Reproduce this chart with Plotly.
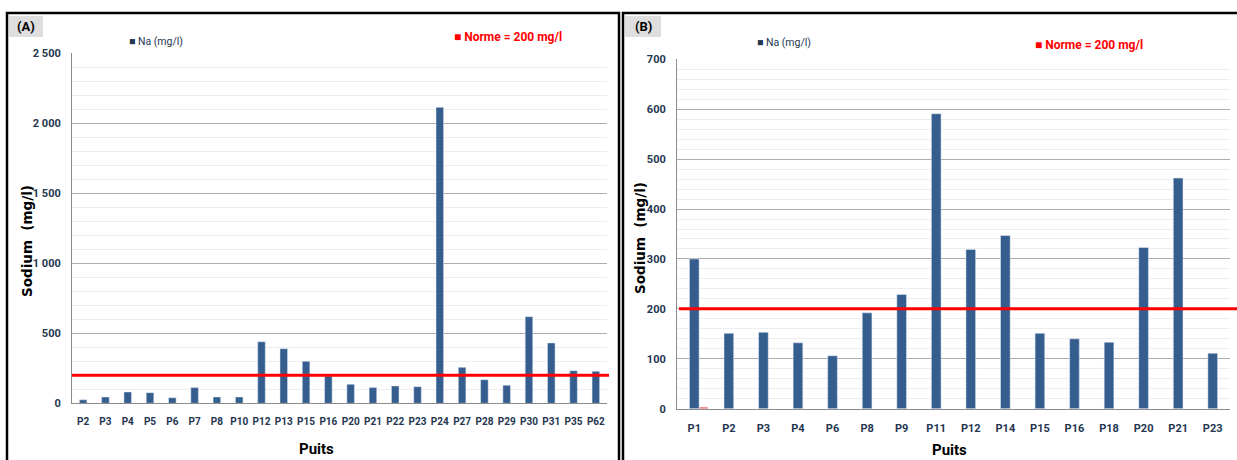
import plotly.graph_objects as go

# Panel (A): sodium per well
wells_a = ["P2", "P3", "P4", "P5", "P6", "P7", "P8", "P10", "P12", "P13", "P15", "P16",
           "P20", "P21", "P22", "P23", "P24", "P27", "P28", "P29", "P30", "P31", "P35", "P62"]
na_a = [25, 45, 81, 76, 40, 112, 45, 45, 440, 390, 300, 195,
        136, 112, 124, 119, 2114, 257, 169, 129, 619, 431, 233, 229]

# Panel (B): sodium per well
wells_b = ["P1", "P2", "P3", "P4", "P6", "P8", "P9", "P11", "P12", "P14", "P15", "P16",
           "P18", "P20", "P21", "P23"]
na_b = [300, 151, 153, 132, 106, 192, 229, 591, 319, 347, 151, 140, 133, 323, 462, 111]

# Small "Norme" bar stub at the first well of panel (B)
norme_stub_x = ["P1"]
norme_stub_y = [3]

NORME = 200
yticks_a = [0, 500, 1000, 1500, 2000, 2500]
yticks_b = [0, 100, 200, 300, 400, 500, 600, 700]

W, H = 1237, 460
BAR = "#355E8F"
TICK_COL = "#243650"
FONT = "Roboto, Liberation Sans, sans-serif"


def px(x):
    return x / W


def py(y):
    return 1 - y / H


fig = go.Figure()
fig.add_trace(go.Bar(x=wells_a, y=na_a, marker_color=BAR, width=0.34,
                     xaxis="x", yaxis="y", showlegend=False))
fig.add_trace(go.Bar(x=wells_b, y=na_b, marker_color=BAR, width=0.28, offset=-0.14,
                     xaxis="x2", yaxis="y2", showlegend=False))
fig.add_trace(go.Bar(x=norme_stub_x, y=norme_stub_y, marker_color="#ff2020", width=0.24,
                     offset=0.15, xaxis="x2", yaxis="y2", showlegend=False))

ax_common = dict(showline=True, linecolor="#8c8c8c", linewidth=1, ticks="",
                 tickfont=dict(family=FONT, size=11, color=TICK_COL, weight="bold"),
                 fixedrange=True, automargin=False)
y_common = dict(ax_common, showgrid=True, gridcolor="#adadad", gridwidth=1,
                zeroline=False, tickformat=",d", ticklabelstandoff=8)
x_common = dict(ax_common, tickangle=0, ticklabelstandoff=9, showgrid=False)

fig.update_layout(
    width=W, height=H,
    margin=dict(l=0, r=0, t=0, b=0),
    paper_bgcolor="white", plot_bgcolor="white",
    separators=", ",
    barmode="overlay",
    xaxis=dict(x_common, domain=[px(72), px(607)], anchor="y",
               tickfont=dict(family=FONT, size=10, color=TICK_COL, weight="bold")),
    yaxis=dict(y_common, domain=[py(403.3), py(53.3)], anchor="x",
               range=[0, 2500], tickvals=yticks_a,
               minor=dict(dtick=100, showgrid=True, gridcolor="#ededed")),
    xaxis2=dict(x_common, domain=[px(677), px(1230)], anchor="y2"),
    yaxis2=dict(y_common, domain=[py(408.7), py(59.3)], anchor="x2",
                range=[0, 700], tickvals=yticks_b,
                minor=dict(dtick=20, showgrid=True, gridcolor="#ededed")),
)

shapes = [
    # panel frames
    dict(type="rect", xref="paper", yref="paper", x0=px(7), x1=px(619),
         y0=-0.2, y1=py(13), line=dict(color="black", width=2.5)),
    dict(type="rect", xref="paper", yref="paper", x0=px(623), x1=1.05,
         y0=-0.2, y1=py(13), line=dict(color="black", width=2.5)),
    # panel tag boxes
    dict(type="rect", xref="paper", yref="paper", x0=px(9), x1=px(43),
         y0=py(37), y1=py(16), fillcolor="#dedede", line=dict(width=0)),
    dict(type="rect", xref="paper", yref="paper", x0=px(625), x1=px(661),
         y0=py(37), y1=py(16), fillcolor="#dedede", line=dict(width=0)),
    # norm lines
    dict(type="line", xref="paper", yref="y", x0=px(72), x1=px(609),
         y0=NORME, y1=NORME, line=dict(color="#ff0000", width=3)),
    dict(type="line", xref="paper", yref="y2", x0=px(679), x1=1.0,
         y0=NORME, y1=NORME, line=dict(color="#ff0000", width=3)),
]

annotations = [
    dict(x=px(26), y=py(27), text="<b>(A)</b>",
         font=dict(family=FONT, size=13, color="black")),
    dict(x=px(643), y=py(27), text="<b>(B)</b>",
         font=dict(family=FONT, size=13, color="black")),
    dict(x=px(127), y=py(41), xanchor="left", text="■ Na (mg/l)",
         font=dict(family=FONT, size=10.5, color=TICK_COL)),
    dict(x=px(452), y=py(37), xanchor="left", text="<b>■ Norme = 200 mg/l</b>",
         font=dict(family=FONT, size=12, color="#ff0000")),
    dict(x=px(755), y=py(42), xanchor="left", text="■ Na (mg/l)",
         font=dict(family=FONT, size=10.5, color=TICK_COL)),
    dict(x=px(1033), y=py(45), xanchor="left", text="<b>■ Norme = 200 mg/l</b>",
         font=dict(family=FONT, size=12, color="#ff0000")),
    dict(x=px(316), y=py(449), text="<b>Puits</b>",
         font=dict(family=FONT, size=15, color="black")),
    dict(x=px(949), y=py(450), text="<b>Puits</b>",
         font=dict(family=FONT, size=15, color="black")),
    dict(x=px(27), y=py(241), text="<b>Sodium  (mg/l)</b>", textangle=-90,
         font=dict(family="DejaVu Sans", size=13.5, color="black")),
    dict(x=px(640), y=py(238), text="<b>Sodium  (mg/l)</b>", textangle=-90,
         font=dict(family="DejaVu Sans", size=13.5, color="black")),
]
for a in annotations:
    a.setdefault("xanchor", "center")
    a.update(xref="paper", yref="paper", showarrow=False, yanchor="middle")

fig.update_layout(shapes=shapes, annotations=annotations)
fig.write_html("out.html")
